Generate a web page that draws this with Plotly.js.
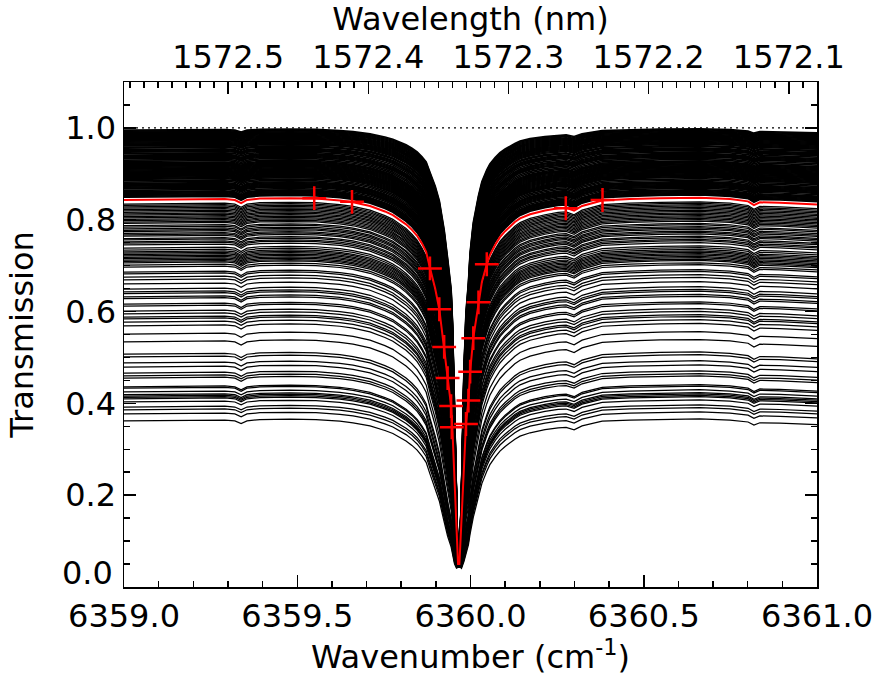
<!DOCTYPE html>
<html><head><meta charset="utf-8">
<script src="https://cdn.plot.ly/plotly-3.0.1.min.js"></script>
<style>html,body{margin:0;padding:0;background:#fff}#chart{width:877px;height:676px}</style>
</head><body><div id="chart"></div>
<script>
// Wavenumber grid (cm-1) and the highlighted (red) transmission spectrum
const wavenumber = [6359.000,6359.104,6359.219,6359.291,6359.320,6359.338,6359.355,6359.392,6359.479,6359.554,
  6359.623,6359.661,6359.710,6359.739,6359.753,6359.776,6359.797,6359.814,6359.831,6359.846,6359.860,6359.872,
  6359.883,6359.898,6359.910,6359.924,6359.934,6359.944,6359.948,6359.954,6359.960,6359.964,6359.968,6359.974,
  6359.981,6359.987,6359.994,6359.999,6360.008,6360.023,6360.033,6360.047,6360.056,6360.071,6360.085,6360.100,
  6360.114,6360.128,6360.143,6360.172,6360.215,6360.253,6360.276,6360.299,6360.322,6360.380,6360.460,6360.547,
  6360.662,6360.749,6360.801,6360.818,6360.835,6360.893,6361.000];
const redTransmission = [0.843,0.844,0.845,0.845,0.843,0.836,0.843,0.846,0.847,0.846,
  0.842,0.838,0.830,0.823,0.818,0.810,0.800,0.790,0.778,0.765,0.748,0.730,
  0.695,0.650,0.605,0.523,0.455,0.394,0.340,0.240,0.130,0.050,0.050,0.140,
  0.270,0.355,0.406,0.469,0.542,0.620,0.665,0.703,0.723,0.745,0.762,0.775,
  0.786,0.795,0.803,0.812,0.820,0.825,0.826,0.820,0.830,0.842,0.845,0.847,
  0.848,0.845,0.840,0.832,0.838,0.837,0.833];

// Left-edge levels of the black spectra: the dense upper block and the rest
const upperLevels = [0.995,0.993,0.991,0.989,0.987,0.985,0.983,0.981,0.979,0.977,0.975,0.973,0.971,0.969,0.967,
  0.965,0.963,0.961,0.958,0.956,0.953,0.951,0.949,0.947,0.944,0.941,0.939,0.937,0.935,0.933,0.930,0.927,
  0.924,0.922,0.920,0.918,0.916,0.914,0.912,0.910,0.908,0.906,0.904,0.902,0.900,0.898,0.896,0.894,0.892,
  0.890,0.888,0.885,0.882,0.879,0.877,0.875,0.873,0.871,0.869,0.867,0.864,0.861,0.859,0.857,0.855,0.853,
  0.851,0.849];
const lowerLevels = [0.834,0.831,0.828,0.825,0.822,0.819,0.816,0.813,0.810,0.807,0.804,0.801,0.798,0.795,0.792,
  0.787,0.784,0.780,0.777,0.774,0.770,0.767,0.764,0.759,0.756,0.752,0.749,0.745,0.738,0.734,0.730,0.727,
  0.724,0.721,0.718,0.715,0.712,0.709,0.706,0.701,0.697,0.686,0.682,0.675,0.669,0.660,0.649,0.643,0.639,
  0.632,0.628,0.616,0.612,0.601,0.595,0.588,0.584,0.577,0.569,0.551,0.534,0.507,0.501,0.488,0.479,0.466,
  0.460,0.455,0.436,0.433,0.425,0.419,0.416,0.413,0.410,0.403,0.392,0.386,0.377,0.362];
// Relative absorption strength (wing exponent) versus level, read from how wide the dips are
const strengthLevels = [0.36, 0.60, 0.843, 0.92, 0.995];
const strengthFactors = [2.0, 1.45, 1.0, 0.75, 0.5];
// Common transmission that all spectra reach at the line centre (tip of the dip)
const tipTransmission = 0.045;

// Red cross markers
const markerWavenumber = [6359.549,6359.658,6359.883,6359.910,6359.924,6359.934,6359.944,6359.946,
  6359.987,6359.994,6359.999,6360.008,6360.023,6360.047,6360.275,6360.381];
const markerTransmission = [0.847,0.839,0.694,0.605,0.523,0.455,0.394,0.348,
  0.355,0.406,0.469,0.542,0.620,0.703,0.825,0.843];

const xTickLabels = [6359.0, 6359.5, 6360.0, 6360.5, 6361.0];
const yTickLabels = [0.2, 0.4, 0.6, 0.8, 1.0];
const yZeroLabel = '0.0';
const wavelengthLabels = [1572.5, 1572.4, 1572.3, 1572.2, 1572.1];
const wavelengthMinor = [1572.57,1572.56,1572.55,1572.54,1572.53,1572.52,1572.51,1572.49,1572.48,1572.47,1572.46,
  1572.45,1572.44,1572.43,1572.42,1572.41,1572.39,1572.38,1572.37,1572.36,1572.35,1572.34,1572.33,1572.32,1572.31,
  1572.29,1572.28,1572.27,1572.26,1572.25,1572.24,1572.23,1572.22,1572.21,1572.19,1572.18,1572.17,1572.16,1572.15,
  1572.14,1572.13,1572.12,1572.11,1572.09];
const refLineX = [6359.0, 6361.0];
const refLineY = [1.0, 1.0];

function strengthFor(L){
  if (L <= strengthLevels[0]) return strengthFactors[0];
  for (let i=1;i<strengthLevels.length;i++){
    if (L <= strengthLevels[i]){
      const t=(L-strengthLevels[i-1])/(strengthLevels[i]-strengthLevels[i-1]);
      return strengthFactors[i-1]+t*(strengthFactors[i]-strengthFactors[i-1]);
    }
  }
  return strengthFactors[strengthFactors.length-1];
}
const R0 = redTransmission[0];
const Rmin = Math.min(...redTransmission)/R0;
function buildSpectra(levels){
  const bx=[], by=[];
  levels.forEach(L=>{
    const k=strengthFor(L);
    const eCore = Math.log(tipTransmission/L)/Math.log(Rmin);
    wavenumber.forEach((w,j)=>{
      const R = redTransmission[j]/R0;
      const s = Math.pow(Math.max(0, 1-R)/(1-Rmin), 4);
      const e = k + (eCore-k)*s;
      bx.push(w); by.push(L*Math.pow(R,e));
    });
    bx.push(null); by.push(null);
  });
  return {x:bx, y:by};
}
const upper = buildSpectra(upperLevels);
const lower = buildSpectra(lowerLevels);

const toWn = nm => 1e7/nm;
const font = {family:'"DejaVu Sans", Arial, sans-serif', size:32, color:'#000'};

const traces = [
  {x:lower.x, y:lower.y, type:'scatter', mode:'lines', line:{color:'#000', width:1.25}, connectgaps:false, hoverinfo:'skip'},
  {x:upper.x, y:upper.y, type:'scatter', mode:'lines', line:{color:'#000', width:1.7}, connectgaps:false, hoverinfo:'skip'},
  {x:wavenumber, y:redTransmission, type:'scatter', mode:'lines', line:{color:'#ff0000', width:2}},
  {x:markerWavenumber, y:markerTransmission, type:'scatter', mode:'markers',
   marker:{symbol:'cross-thin-open', size:17, color:'#ff0000', line:{color:'#ff0000', width:2.5}}},
  {x:refLineX, y:refLineY, xaxis:'x2', type:'scatter', mode:'lines', line:{color:'#000', width:1.3, dash:'2px,4px'}}
];

const axisCommon = {showgrid:false, zeroline:false, showline:true, linecolor:'#000', linewidth:1.5,
  ticks:'inside', ticklen:12, tickwidth:1.5, tickcolor:'#000', tickfont:font};

const layout = {
  width:877, height:676, margin:{l:124, r:60, t:82, b:89},
  paper_bgcolor:'#fff', plot_bgcolor:'#fff', showlegend:false, hovermode:false, font:font,
  xaxis: Object.assign({}, axisCommon, {range:[6359,6361], tickmode:'array', tickvals:xTickLabels,
    ticktext:xTickLabels.map(v=>v.toFixed(1)), mirror:false,
    minor:{dtick:0.1, ticks:'inside', ticklen:6, tickwidth:1.5, tickcolor:'#000'},
    title:{text:'Wavenumber (cm<sup>-1</sup>)', font:font, standoff:4}}),
  xaxis2: Object.assign({}, axisCommon, {range:[6359,6361], overlaying:'x', side:'top', anchor:'y',
    tickmode:'array', tickvals:wavelengthLabels.map(toWn), ticktext:wavelengthLabels.map(v=>v.toFixed(1)),
    minor:{tickmode:'array', tickvals:wavelengthMinor.map(toWn), ticks:'inside', ticklen:6, tickwidth:1.5, tickcolor:'#000'},
    title:{text:'Wavelength (nm)', font:font, standoff:2}}),
  yaxis: Object.assign({}, axisCommon, {range:[0,1.1], tickmode:'array', tickvals:yTickLabels,
    ticktext:yTickLabels.map(v=>v.toFixed(1)), mirror:'ticks',
    minor:{dtick:0.05, ticks:'inside', ticklen:6, tickwidth:1.5, tickcolor:'#000'},
    title:{text:'Transmission', font:font, standoff:22}}),
  annotations:[{text:yZeroLabel, xref:'paper', yref:'y', x:0, y:0.03, xanchor:'right', yanchor:'middle',
    xshift:-9, showarrow:false, font:font}]
};
Plotly.newPlot('chart', traces, layout, {staticPlot:true, displayModeBar:false});
</script></body></html>
